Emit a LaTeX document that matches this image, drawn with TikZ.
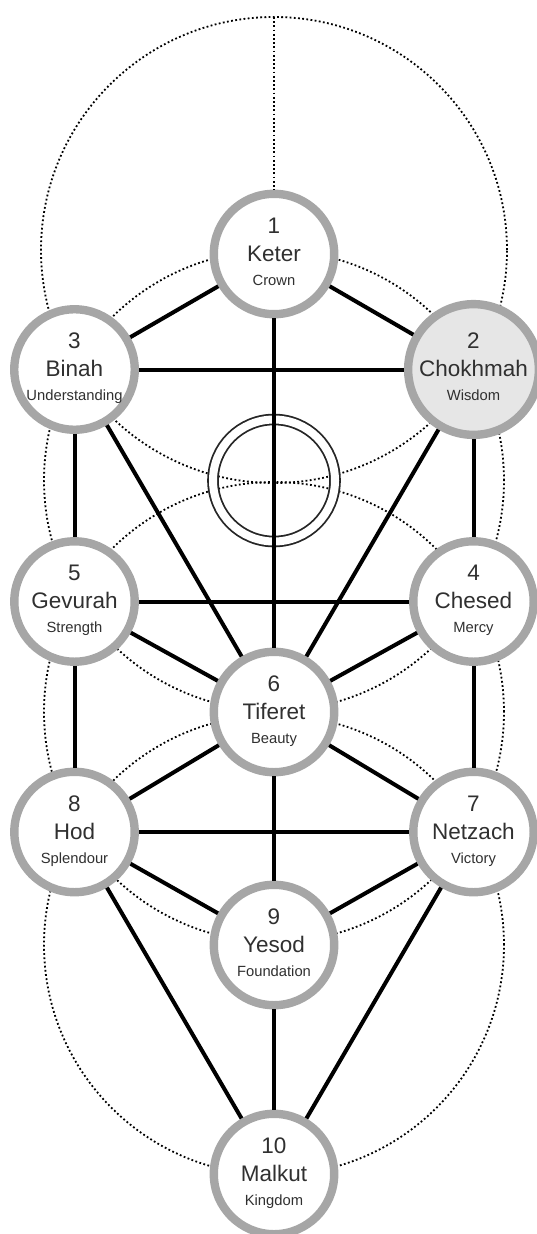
\documentclass[tikz,border=0pt]{standalone}
\usepackage{fontspec}
\setmainfont{Liberation Sans}
\usepackage{xcolor}
\usepackage{tikz}
\definecolor{ring}{HTML}{A6A6A6}
\definecolor{ink}{HTML}{303030}
\definecolor{haze}{HTML}{E6E6E6}
\newcommand{\sefiratext}[3]{#1\\#2\\[-3pt]{\fontsize{10.5}{12}\selectfont #3\strut}}

\begin{document}
\begin{tikzpicture}[
  x=0.25mm, y=-0.25mm,
  sefira/.style={circle, draw=ring, line width=2.1mm, fill=white, minimum size=30.1mm, inner sep=0pt, align=center, text=ink, font=\fontsize{16}{20}\selectfont},
  gate/.style={circle, draw=black!85, line width=0.45mm, double, double distance=2mm, minimum size=30.5mm, inner sep=0pt},
  link/.style={draw=black, line width=1mm},
  guide/.style={draw=black, line width=0.45mm, dash pattern=on 0.45mm off 0.6mm}
]
  \useasboundingbox (0,0) rectangle (537,1234);

  % construction circles
  \draw[guide] (274,250) circle (58.25mm);
  \draw[guide] (274,480.5) circle (57.5mm);
  \draw[guide] (274,712) circle (57.5mm);
  \draw[guide] (274,945) circle (57.5mm);
  \coordinate (apex) at (274,17);

  \node[gate] (daat) at (274,480.5) {};

  \node[sefira] (keter) at (274,254) {\sefiratext{1}{Keter}{Crown}};
  \node[sefira, fill=haze] (chokhmah) at (473.5,369.5) {\sefiratext{2}{Chokhmah}{Wisdom}};
  \node[sefira] (binah) at (74.5,369.5) {\sefiratext{3}{Binah}{Understanding}};
  \node[sefira] (chesed) at (473.5,601.5) {\sefiratext{4}{Chesed}{Mercy}};
  \node[sefira] (gevurah) at (74.5,601.5) {\sefiratext{5}{Gevurah}{Strength}};
  \node[sefira] (tiferet) at (274,712) {\sefiratext{6}{Tiferet}{Beauty}};
  \node[sefira] (netzach) at (473.5,832) {\sefiratext{7}{Netzach}{Victory}};
  \node[sefira] (hod) at (74.5,832) {\sefiratext{8}{Hod}{Splendour}};
  \node[sefira] (yesod) at (274,945) {\sefiratext{9}{Yesod}{Foundation}};
  \node[sefira] (malkut) at (274,1174) {\sefiratext{10}{Malkut}{Kingdom}};

  \draw[guide] (apex) -- (keter);

  \draw[link] (keter) -- (chokhmah);
  \draw[link] (keter) -- (binah);
  \draw[link] (keter) -- (tiferet);
  \draw[link] (chokhmah) -- (binah);
  \draw[link] (chokhmah) -- (chesed);
  \draw[link] (chokhmah) -- (tiferet);
  \draw[link] (binah) -- (gevurah);
  \draw[link] (binah) -- (tiferet);
  \draw[link] (chesed) -- (gevurah);
  \draw[link] (chesed) -- (tiferet);
  \draw[link] (chesed) -- (netzach);
  \draw[link] (gevurah) -- (tiferet);
  \draw[link] (gevurah) -- (hod);
  \draw[link] (tiferet) -- (netzach);
  \draw[link] (tiferet) -- (hod);
  \draw[link] (tiferet) -- (yesod);
  \draw[link] (netzach) -- (hod);
  \draw[link] (netzach) -- (yesod);
  \draw[link] (netzach) -- (malkut);
  \draw[link] (hod) -- (yesod);
  \draw[link] (hod) -- (malkut);
  \draw[link] (yesod) -- (malkut);
\end{tikzpicture}
\end{document}
